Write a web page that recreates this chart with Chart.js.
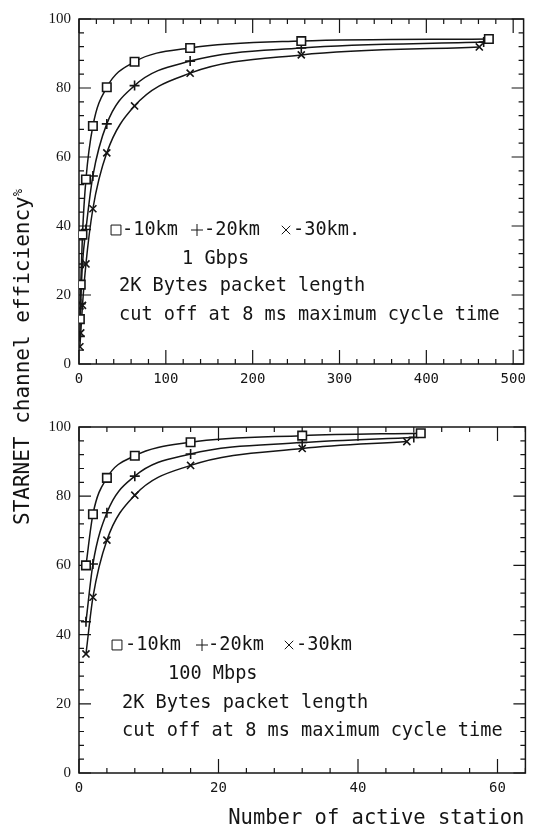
<!DOCTYPE html>
<html>
<head>
<meta charset="utf-8">
<script src="https://cdn.jsdelivr.net/npm/chart.js@4.4.0/dist/chart.umd.min.js"></script>
<style>
  body { margin: 0; background: #fff; }
  #wrap { position: relative; width: 533px; height: 831px; overflow: hidden; }
  canvas { position: absolute; left: 0; }
  #topChart { top: 0; }
  #bottomChart { top: 400px; }
  #ytitle {
    position: absolute; left: 22px; top: 357px;
    transform: translate(-50%, -50%) rotate(-90deg);
    white-space: nowrap; font: 21px "DejaVu Sans Mono"; color: #111;
  }
  #ytitle span { font-size: 12px; vertical-align: 7px; }
</style>
</head>
<body>
<div id="wrap">
  <canvas id="topChart" width="533" height="400"></canvas>
  <canvas id="bottomChart" width="533" height="431"></canvas>
  <div id="ytitle">STARNET channel efficiency<span>%</span></div>
</div>
<script>
// 1 Gbps panel: station counts and efficiency (%)
const gbpsX10 = [1, 2, 4, 8, 16, 32, 64, 128, 256, 472];
const gbps10  = [13, 23, 37.5, 53.5, 69, 80.2, 87.6, 91.6, 93.6, 94.2];
const gbpsX20 = [1, 2, 4, 8, 16, 32, 64, 128, 256, 466];
const gbps20  = [8, 17.5, 29, 39, 54.5, 69.6, 80.7, 87.8, 91.6, 93.3];
const gbpsX30 = [1, 2, 4, 8, 16, 32, 64, 128, 256, 461];
const gbps30  = [5, 9, 17, 29, 45, 61.2, 74.8, 84.3, 89.6, 91.9];

// 100 Mbps panel
const mbpsX10 = [1, 2, 4, 8, 16, 32, 49];
const mbps10  = [60, 74.8, 85.3, 91.7, 95.6, 97.5, 98.2];
const mbpsX20 = [1, 2, 4, 8, 16, 32, 48];
const mbps20  = [43.7, 60.4, 75.2, 85.8, 92.2, 95.5, 97];
const mbpsX30 = [1, 2, 4, 8, 16, 32, 47];
const mbps30  = [34.4, 50.8, 67.3, 80.3, 88.9, 93.8, 95.8];

const yTicks = [0, 20, 40, 60, 80, 100];
const gbpsTicks = [0, 100, 200, 300, 400, 500];
const mbpsTicks = [0, 20, 40, 60];

const ink = '#151515';
const mono = '"DejaVu Sans Mono", monospace';

function series(xs, ys, style) {
  return {
    data: xs.map((x, i) => ({x: x, y: ys[i]})),
    borderColor: ink,
    borderWidth: 1.5,
    pointStyle: style,
    pointRadius: style === 'rect' ? 6 : 5,
    pointBorderWidth: 1.6,
    pointBorderColor: ink,
    pointBackgroundColor: '#fff',
    cubicInterpolationMode: 'monotone',
    fill: false
  };
}

// box with inward ticks on all four sides
const frame = {
  id: 'frame',
  beforeDatasetsDraw(chart, args, o) {
    const {ctx, chartArea: a, scales: {x, y}} = chart;
    ctx.save();
    ctx.strokeStyle = ink;
    ctx.lineWidth = 1.5;
    ctx.strokeRect(a.left, a.top, a.right - a.left, a.bottom - a.top);
    ctx.lineWidth = 1.2;
    ctx.beginPath();
    for (let v = 0; v <= x.max; v += o.xMinor) {
      const px = x.getPixelForValue(v);
      const len = v % o.xMajor === 0 ? 14 : 5;
      ctx.moveTo(px, a.bottom); ctx.lineTo(px, a.bottom - len);
      ctx.moveTo(px, a.top); ctx.lineTo(px, a.top + len);
    }
    for (let v = 0; v <= y.max; v += 4) {
      const py = y.getPixelForValue(v);
      const len = v % 20 === 0 ? 12 : 5;
      ctx.moveTo(a.left, py); ctx.lineTo(a.left + len, py);
      ctx.moveTo(a.right, py); ctx.lineTo(a.right - len, py);
    }
    ctx.stroke();
    ctx.restore();
  }
};

// in-plot captions and the legend row
const notes = {
  id: 'notes',
  afterDraw(chart, args, o) {
    const {ctx, chartArea: a} = chart;
    ctx.save();
    ctx.textBaseline = 'middle';
    ctx.textAlign = 'left';
    ctx.font = '18.6px ' + mono;
    o.legend.forEach(item => {
      ctx.fillStyle = '#fff';
      ctx.strokeStyle = ink;
      Chart.helpers.drawPoint(ctx, {pointStyle: item.style, radius: item.style === 'rect' ? 7 : 6, borderWidth: 1.8},
        a.left + item.mx, a.top + o.legendY);
      ctx.fillStyle = ink;
      ctx.fillText(item.text, a.left + item.tx, a.top + o.legendY);
    });
    ctx.fillStyle = ink;
    o.lines.forEach(l => ctx.fillText(l.text, a.left + l.x, a.top + l.y));
    if (o.xTitle) {
      ctx.font = '20.5px ' + mono;
      ctx.textAlign = 'right';
      ctx.fillText(o.xTitle, a.right - 1, a.bottom + 46);
    }
    ctx.restore();
  }
};

function makeChart(id, sets, xMax, xTickVals, xMinor, xMajor, pad, xHeight, noteOpts) {
  return new Chart(document.getElementById(id), {
    type: 'line',
    data: {datasets: sets},
    options: {
      responsive: false,
      animation: false,
      layout: {padding: pad},
      plugins: {legend: {display: false}, tooltip: {enabled: false}, frame: {xMinor: xMinor, xMajor: xMajor}, notes: noteOpts},
      scales: {
        x: {
          type: 'linear', min: 0, max: xMax,
          grid: {display: false, drawTicks: false}, border: {display: false},
          afterBuildTicks: s => { s.ticks = xTickVals.map(v => ({value: v})); },
          afterFit: s => { s.height = xHeight; },
          ticks: {color: ink, padding: 7, maxRotation: 0, font: {family: mono, size: 14}}
        },
        y: {
          min: 0, max: 100,
          grid: {display: false, drawTicks: false}, border: {display: false},
          afterBuildTicks: s => { s.ticks = yTicks.map(v => ({value: v})); },
          afterFit: s => { s.width = 79; },
          ticks: {color: ink, padding: 8, font: {family: '"Liberation Serif", serif', size: 15}}
        }
      }
    },
    plugins: [frame, notes]
  });
}

makeChart('topChart', [
  series(gbpsX10, gbps10, 'rect'),
  series(gbpsX20, gbps20, 'cross'),
  series(gbpsX30, gbps30, 'crossRot')
], 512, gbpsTicks, 20, 100, {top: 19, right: 6, left: 0, bottom: 0}, 36, {
  legendY: 211,
  legend: [
    {style: 'rect', mx: 37, tx: 43, text: '-10km'},
    {style: 'cross', mx: 118, tx: 125, text: '-20km'},
    {style: 'crossRot', mx: 207, tx: 214, text: '-30km.'}
  ],
  lines: [
    {text: '1 Gbps', x: 103, y: 240},
    {text: '2K Bytes packet length', x: 40, y: 267},
    {text: 'cut off at 8 ms maximum cycle time', x: 40, y: 296}
  ]
});

makeChart('bottomChart', [
  series(mbpsX10, mbps10, 'rect'),
  series(mbpsX20, mbps20, 'cross'),
  series(mbpsX30, mbps30, 'crossRot')
], 64, mbpsTicks, 4, 20, {top: 27, right: 3, left: 0, bottom: 0}, 58, {
  legendY: 218,
  legend: [
    {style: 'rect', mx: 38, tx: 46, text: '-10km'},
    {style: 'cross', mx: 123, tx: 129, text: '-20km'},
    {style: 'crossRot', mx: 210, tx: 217, text: '-30km'}
  ],
  lines: [
    {text: '100 Mbps', x: 89, y: 247},
    {text: '2K Bytes packet length', x: 43, y: 276},
    {text: 'cut off at 8 ms maximum cycle time', x: 43, y: 304}
  ],
  xTitle: 'Number of active station'
});
</script>
</body>
</html>
